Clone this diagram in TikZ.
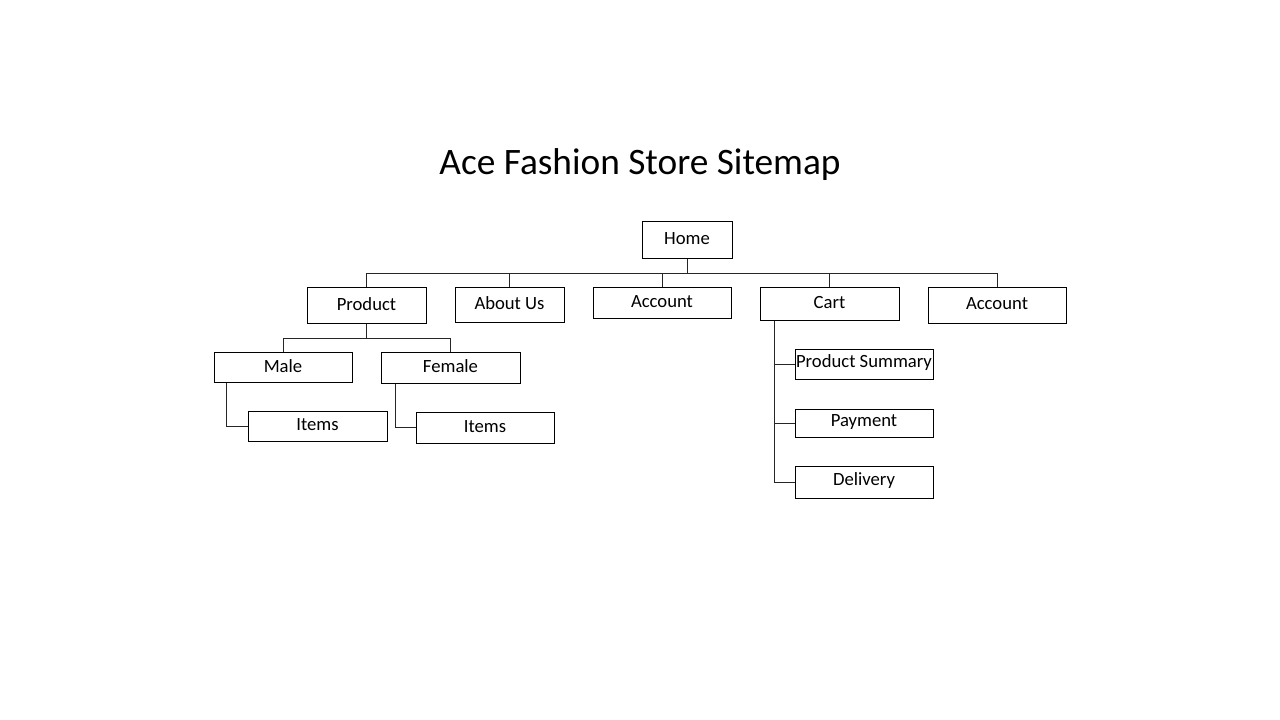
\documentclass[tikz,border=0pt]{standalone}
\usepackage{fontspec}
\setmainfont{Carlito}
\usetikzlibrary{fit,calc}
\begin{document}
\begin{tikzpicture}[x=0.75pt,y=-0.75pt,
  box/.style={draw=black, line width=0.75pt, inner sep=0pt},
  boxtext/.style={label={[font=\fontsize{14}{16}\selectfont, yshift=0.8pt]center:#1}},
  link/.style={draw=black!85, line width=0.75pt}]
\useasboundingbox[fill=white] (0,0) rectangle (1280,720);
\node[font=\fontsize{28}{32}\selectfont] (title) at (640,165) {Ace Fashion Store Sitemap};
\node[box, fit={(642,222)(732,258)}, boxtext=Home] (home) {};
\node[box, fit={(307,287)(426,323)}, boxtext=Product] (product) {};
\node[box, fit={(455,287)(564,322)}, boxtext={About Us}] (about) {};
\node[box, fit={(593,287)(731,318)}, boxtext=Account] (acc1) {};
\node[box, fit={(760,287)(899,320)}, boxtext=Cart] (cart) {};
\node[box, fit={(928,287)(1066,323)}, boxtext=Account] (acc2) {};
\node[box, fit={(214,352)(352,382)}, boxtext=Male] (male) {};
\node[box, fit={(381,352)(520,383)}, boxtext=Female] (female) {};
\node[box, fit={(248,411)(387,441)}, boxtext=Items] (items1) {};
\node[box, fit={(416,412)(554,443)}, boxtext=Items] (items2) {};
\node[box, fit={(795,349)(933,379)}, boxtext={Product Summary}] (psum) {};
\node[box, fit={(795,409)(933,437)}, boxtext=Payment] (pay) {};
\node[box, fit={(795,466)(933,498)}, boxtext=Delivery] (deliv) {};
\coordinate (bus) at (0,273);
\coordinate (pbus) at (0,338);
\draw[link] (home.south) -- (home.south |- bus);
\draw[link] (product.north) -- (product.north |- bus) -- (acc2.north |- bus) -- (acc2.north);
\draw[link] (about.north) -- (about.north |- bus);
\draw[link] (acc1.north) -- (acc1.north |- bus);
\draw[link] (cart.north) -- (cart.north |- bus);
\draw[link] (product.south) -- (product.south |- pbus);
\draw[link] (male.north) -- (male.north |- pbus) -- (female.north |- pbus) -- (female.north);
\draw[link] ($(male.south west)+(13,0)$) |- (items1.west);
\draw[link] ($(female.south west)+(15,0)$) |- (items2.west);
\draw[link] ($(cart.south west)+(15,0)$) |- (deliv.west);
\draw[link] ($(cart.south west)+(15,0)$) |- (psum.west);
\draw[link] ($(cart.south west)+(15,0)$) |- (pay.west);
\end{tikzpicture}
\end{document}
